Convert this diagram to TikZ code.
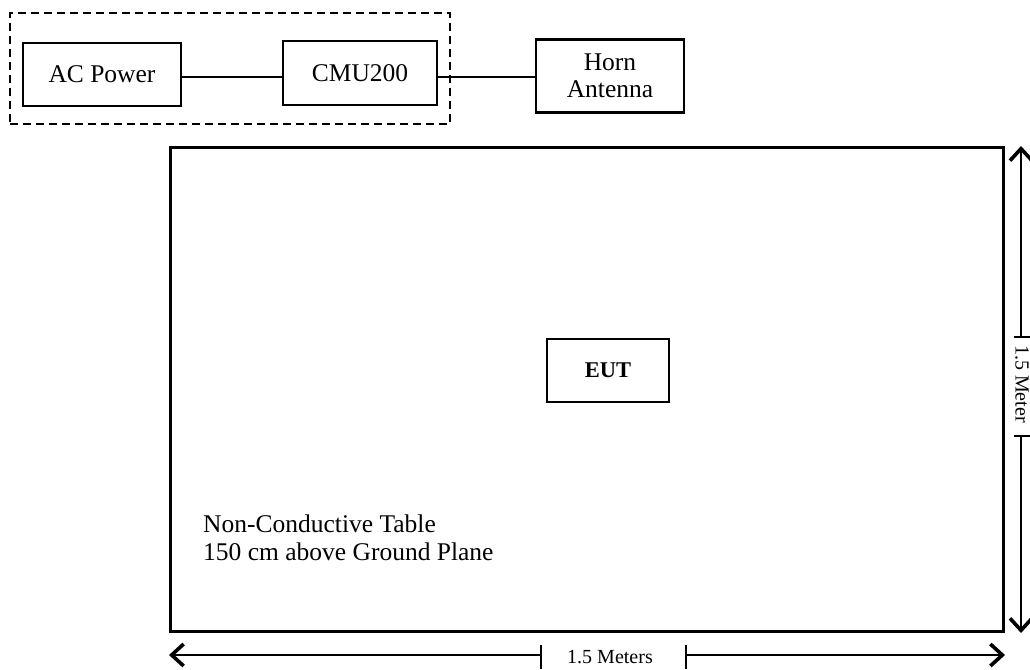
\documentclass[tikz,border=0pt]{standalone}
\usepackage{fontspec}
\setmainfont{Liberation Serif}
\usetikzlibrary{arrows.meta}
\begin{document}
\begin{tikzpicture}[x=1pt,y=-1pt,
  box/.style={draw,line width=2.2pt,rectangle,inner sep=0pt,align=center,
    font=\fontsize{25.5}{26.5}\selectfont},
  dimline/.style={line width=1.6pt},
  dimarrow/.style={dimline,-{Straight Barb[length=12pt,width=22pt,line width=3.6pt]}},
  dimtext/.style={font=\fontsize{20}{22}\selectfont,inner sep=0pt}]
\useasboundingbox (0,0) rectangle (1030,669);
% dashed group
\node[draw,line width=2.2pt,dash pattern=on 8pt off 5pt,minimum width=440pt,minimum height=111pt,inner sep=0pt] (grp) at (230,68.5) {};
\node[box,minimum width=158pt,minimum height=63pt] (ac) at (102,74.5) {AC Power};
\node[box,minimum width=154pt,minimum height=64pt] (cmu) at (360,73) {CMU200};
\node[box,minimum width=148pt,minimum height=73pt] (horn) at (610,76) {Horn\\Antenna};
\draw[line width=2pt] ([yshift=-2.5pt]ac.east) -- ([yshift=-2.5pt]ac.east -| cmu.west);
\draw[line width=2pt] ([yshift=-4pt]cmu.east) -- ([yshift=-4pt]cmu.east -| horn.west);
% table
\node[draw,line width=3pt,minimum width=833pt,minimum height=484pt,inner sep=0pt] (table) at (586.5,389) {};
\node[box,minimum width=122pt,minimum height=63pt,font=\fontsize{22.5}{24}\selectfont\bfseries] (eut) at (608,370.5) {EUT};
\node[anchor=base west,inner sep=0pt,align=left,font=\fontsize{25.5}{28}\selectfont] (lbl) at (203,560) {Non-Conductive Table\\150 cm above Ground Plane};
% horizontal dimension
\coordinate (hl) at (169,655);
\coordinate (ht1) at (541,655);
\coordinate (ht2) at (686,655);
\coordinate (hr) at (1005,655);
\draw[dimarrow] (ht1) -- (hl);
\draw[dimarrow] (ht2) -- (hr);
\draw[dimline] ([yshift=10pt]ht1) -- ([yshift=-14pt]ht1);
\draw[dimline] ([yshift=10pt]ht2) -- ([yshift=-14pt]ht2);
\node[dimtext] (hlab) at (610,657) {1.5 Meters};
% vertical dimension
\coordinate (vt) at (1021,146);
\coordinate (vt1) at (1021,337);
\coordinate (vt2) at (1021,436);
\coordinate (vb) at (1021,633);
\draw[dimarrow] (vt1) -- (vt);
\draw[dimarrow] (vt2) -- (vb);
\draw[dimline] ([xshift=-7pt]vt1) -- ([xshift=9pt]vt1);
\draw[dimline] ([xshift=-7pt]vt2) -- ([xshift=9pt]vt2);
\node[dimtext,anchor=base,rotate=-90] (vlab) at (1015.5,384) {1.5 Meter};
\end{tikzpicture}
\end{document}
